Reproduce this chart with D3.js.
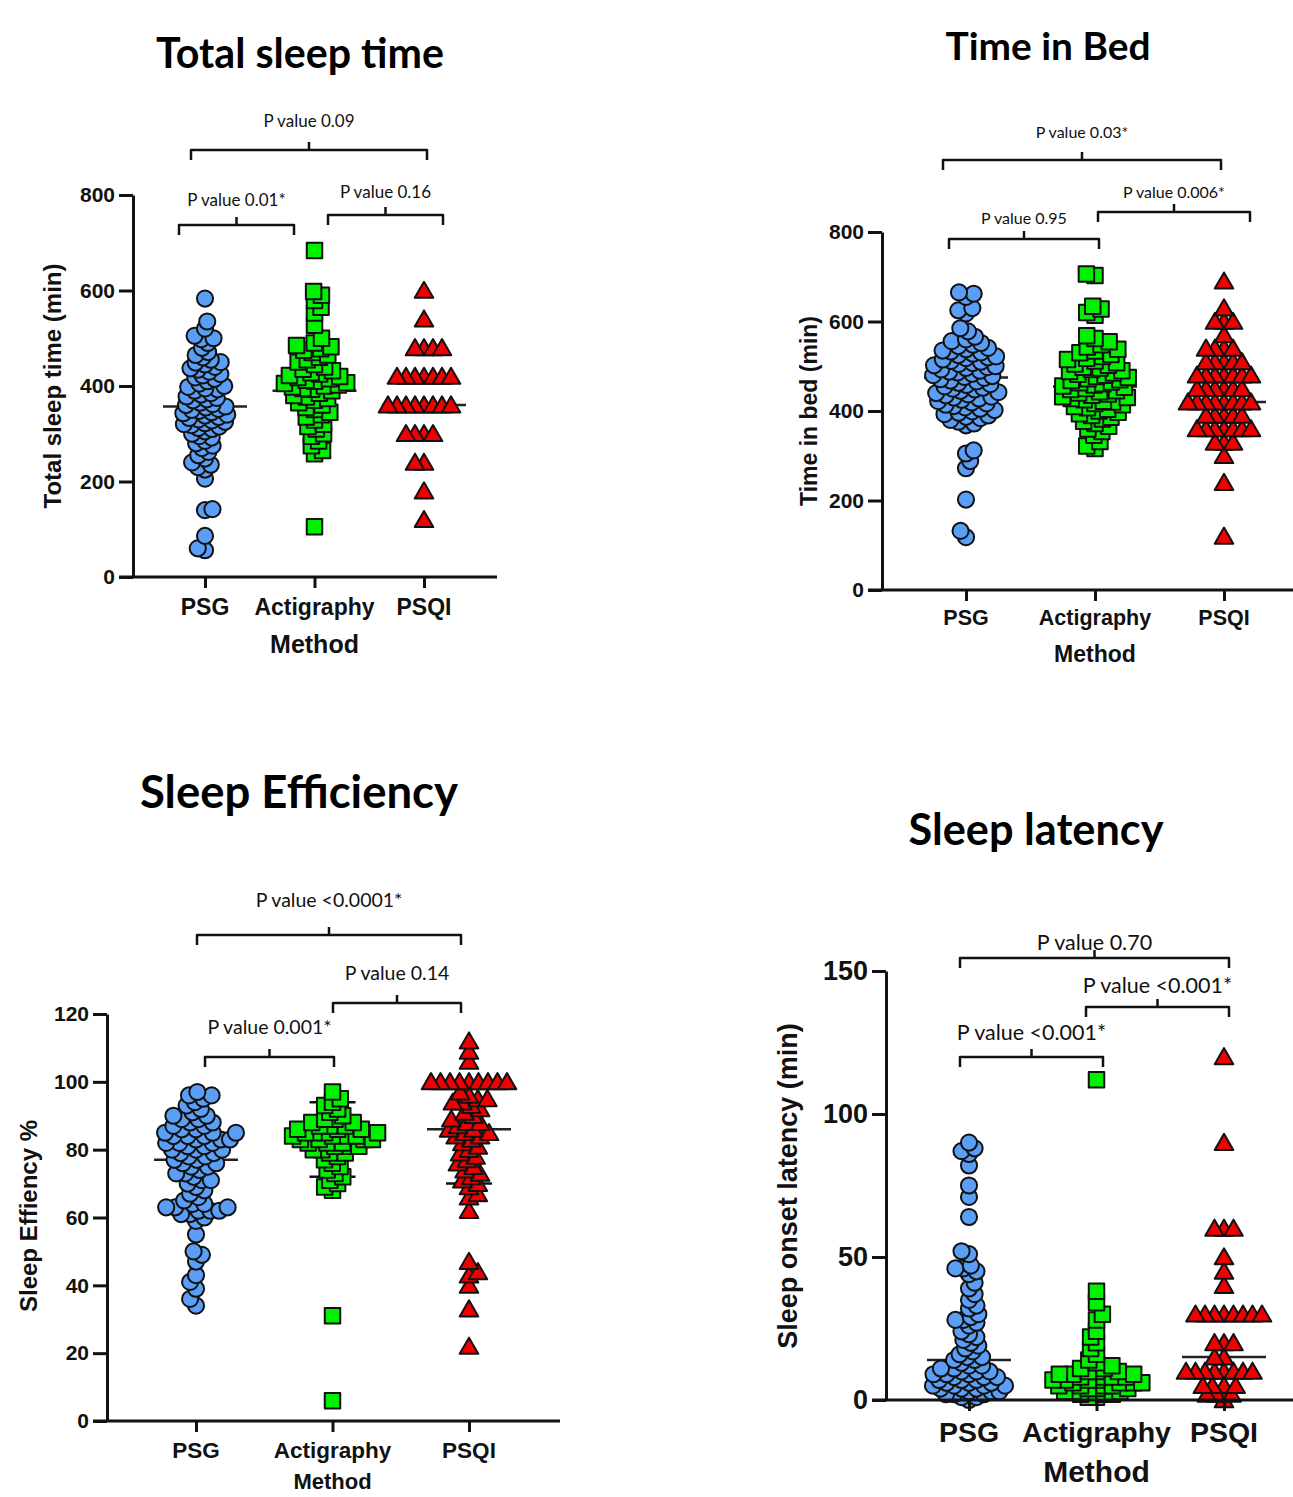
<!DOCTYPE html>
<html>
<head>
<meta charset="utf-8">
<script src="https://cdn.jsdelivr.net/npm/d3@7"></script>
<style>
  body { margin: 0; background: #fff; }
  svg { display: block; }
</style>
</head>
<body>
<svg id="fig" width="1293" height="1497"></svg>
<script>
// Groups shown in every panel
var categories = ["PSG", "Actigraphy", "PSQI"];

// Total sleep time (min)
var tstPSG = [583, 535, 520, 505, 500, 498, 490, 480, 471, 465, 460, 455, 450, 449, 445, 440, 437, 434, 430, 425,
  422, 418, 415, 410, 405, 400, 398, 395, 393, 390, 385, 382, 378, 375, 372, 370, 365, 362, 360, 357,
  355, 352, 350, 348, 345, 343, 340, 338, 335, 333, 330, 328, 325, 322, 320, 318, 315, 312, 310, 305,
  300, 295, 292, 285, 280, 275, 270, 262, 255, 248, 240, 235, 230, 225, 206, 142, 140, 86, 60, 56];
var tstAct = [684, 598, 590, 579, 565, 553, 527, 500, 490, 485, 482, 478, 475, 470, 465, 460, 455, 450, 445, 440,
  435, 432, 428, 425, 422, 420, 418, 415, 412, 410, 407, 405, 402, 400, 398, 395, 393, 390, 385, 380,
  377, 374, 370, 365, 360, 355, 351, 345, 340, 335, 329, 320, 315, 310, 300, 295, 285, 275, 265, 258, 105];
var tstPSQI = [600, 540, 480, 480, 480, 480, 420, 420, 420, 420, 420, 420, 420, 360, 360, 360, 360, 360, 360, 360, 360,
  300, 300, 300, 300, 240, 240, 180, 120];
var tstMedians = [357, 390, 360];
var tstTicks = [0, 200, 400, 600, 800];
var tstPvalues = ["P value 0.01*", "P value 0.16", "P value 0.09"];

// Time in bed (min)
var tibPSG = [665, 662, 655, 630, 625, 618, 585, 578, 566, 560, 556, 552, 548, 545, 541, 538, 535, 533, 531, 528,
  525, 522, 520, 518, 515, 512, 510, 507, 505, 502, 500, 498, 496, 493, 490, 488, 486, 483, 480, 478,
  476, 474, 471, 468, 466, 463, 460, 458, 455, 452, 450, 448, 445, 442, 440, 437, 435, 432, 430, 428,
  425, 422, 419, 417, 414, 411, 408, 405, 402, 399, 396, 393, 390, 387, 384, 380, 376, 372, 368,
  312, 305, 288, 272, 202, 132, 118];
var tibAct = [706, 703, 634, 628, 620, 614, 568, 562, 555, 548, 543, 538, 534, 530, 526, 522, 518, 515, 512, 508,
  505, 502, 498, 496, 493, 490, 488, 485, 482, 480, 477, 475, 472, 470, 468, 465, 463, 461, 458, 456,
  453, 450, 448, 445, 443, 440, 438, 435, 432, 430, 428, 425, 422, 420, 417, 414, 410, 407, 404, 400,
  397, 394, 390, 386, 382, 377, 372, 366, 360, 354, 346, 332, 322, 316];
var tibPSQI = [690, 630, 600, 600, 600, 570, 540, 540, 540, 540, 510, 510, 510, 510, 510,
  480, 480, 480, 480, 480, 480, 480, 450, 450, 450, 450, 450, 450,
  420, 420, 420, 420, 420, 420, 420, 420, 390, 390, 390, 390, 390,
  360, 360, 360, 360, 360, 360, 360, 330, 330, 330, 300, 240, 120];
var tibMedians = [475, 455, 420];
var tibTicks = [0, 200, 400, 600, 800];
var tibPvalues = ["P value 0.95", "P value 0.006*", "P value 0.03*"];

// Sleep efficiency (%)
var sePSG = [34, 36, 39, 41, 43, 47, 49, 50, 55, 59, 60, 61, 61, 62, 62, 62, 63, 63, 63, 64,
  64, 65, 66, 67, 68, 69, 70, 71, 71, 72, 73, 73, 74, 75, 75, 76, 76, 77, 77, 78,
  78, 79, 79, 80, 80, 80, 81, 81, 82, 82, 82, 83, 83, 83, 84, 84, 84, 85, 85, 85,
  86, 86, 87, 87, 88, 88, 89, 89, 90, 90, 91, 92, 93, 94, 95, 96, 96, 97];
var seAct = [6, 31, 68, 69, 70, 71, 72, 73, 74, 75, 76, 77, 78, 79, 79, 80, 80, 81, 81, 81,
  82, 82, 82, 83, 83, 83, 83, 84, 84, 84, 84, 85, 85, 85, 85, 86, 86, 86, 87, 87,
  87, 88, 88, 89, 89, 90, 91, 92, 93, 94, 95, 97];
var sePSQI = [22, 33, 40, 43, 44, 47, 62, 66, 67, 69, 70, 71, 72, 73, 74, 75, 76, 77, 78, 79,
  80, 81, 82, 83, 84, 84, 85, 85, 86, 86, 87, 88, 88, 89, 90, 91, 92, 93, 94, 94,
  95, 95, 96, 97, 100, 100, 100, 100, 100, 100, 100, 100, 100, 106, 109, 112];
var seMedians = [77, 83, 86];
var seLowerQ = [63, 72, 70];
var seUpperQ = [88, 94, 100];
var seTicks = [0, 20, 40, 60, 80, 100, 120];
var sePvalues = ["P value 0.001*", "P value 0.14", "P value <0.0001*"];

// Sleep onset latency (min)
var slPSG = [0, 1, 1, 2, 2, 2, 3, 3, 3, 4, 4, 4, 5, 5, 5, 5, 6, 6, 6, 7,
  7, 7, 8, 8, 8, 9, 9, 9, 10, 10, 10, 11, 11, 12, 12, 13, 14, 14, 15, 15,
  16, 17, 18, 19, 20, 21, 22, 23, 24, 26, 27, 28, 28, 29, 30, 32, 33, 35, 37, 39,
  41, 44, 45, 46, 46, 47, 51, 52, 64, 71, 75, 82, 86, 87, 88, 90];
var slAct = [1, 1, 2, 2, 2, 3, 3, 3, 4, 4, 4, 5, 5, 5, 5, 6, 6, 6, 6, 7,
  7, 7, 7, 8, 8, 8, 8, 9, 9, 9, 10, 10, 10, 11, 11, 12, 13, 14, 16, 18,
  20, 22, 24, 28, 30, 34, 38, 112];
var slPSQI = [120, 90, 60, 60, 60, 50, 45, 40, 30, 30, 30, 30, 30, 30, 30, 30,
  20, 20, 20, 15, 15, 10, 10, 10, 10, 10, 10, 10, 10, 5, 5, 5, 5, 2, 2, 2, 0];
var slMedians = [14, 7, 15];
var slTicks = [0, 50, 100, 150];
var slPvalues = ["P value <0.001*", "P value <0.001*", "P value 0.70"];

// Marker look per group
var colors = ["#5a9ef5", "#00f000", "#f00000"];
var shapes = [d3.symbolCircle, d3.symbolSquare, d3.symbolTriangle];
var shapeSizes = [205, 240, 150];

var svg = d3.select("#fig");

// Panel layout (pixels); dist = spacing between marker centres per group
var panels = [
  { title: "Total sleep time", titleX: 300, titleY: 68, titleW: 288,
    yLabel: "Total sleep time (min)", yLabelX: 53, yLabelY: 386, yLabelSize: 24,
    axisX: 133, axisEnd: 497, yRange: [577, 195], xRange: [205, 424], domain: [0, 800],
    ticks: tstTicks, tickFont: 21, catY: 615, catFont: 23, methodY: 653, methodFont: 25,
    groups: [tstPSG, tstAct, tstPSQI], medians: tstMedians, dist: [7.5, 8.7, 9],
    pFont: 17, pvalues: tstPvalues,
    brackets: [[179, 294, 225, 206], [328, 443, 215, 198], [191, 427, 150, 127]] },
  { title: "Time in Bed", titleX: 1048, titleY: 60, titleW: 205,
    yLabel: "Time in bed (min)", yLabelX: 809, yLabelY: 411, yLabelSize: 23,
    axisX: 882, axisEnd: 1293, yRange: [590, 232], xRange: [966, 1224], domain: [0, 800],
    ticks: tibTicks, tickFont: 21, catY: 625, catFont: 21.5, methodY: 662, methodFont: 23,
    groups: [tibPSG, tibAct, tibPSQI], medians: tibMedians, dist: [8.3, 8.7, 9],
    pFont: 16, pvalues: tibPvalues,
    brackets: [[949, 1099, 239, 224], [1098, 1250, 212, 198], [943, 1221, 160, 138]] },
  { title: "Sleep Efficiency", titleX: 299, titleY: 808, titleW: 318,
    yLabel: "Sleep Effiency %", yLabelX: 29, yLabelY: 1216, yLabelSize: 24,
    axisX: 107, axisEnd: 560, yRange: [1421, 1014], xRange: [196, 469], domain: [0, 120],
    ticks: seTicks, tickFont: 21, catY: 1458, catFont: 22.5, methodY: 1489, methodFont: 22,
    groups: [sePSG, seAct, sePSQI], medians: seMedians, lowerQ: seLowerQ, upperQ: seUpperQ, dist: [9, 8.5, 9.5],
    pFont: 19.5, pvalues: sePvalues,
    brackets: [[205, 334, 1057, 1034], [333, 461, 1003, 980], [197, 461, 935, 907]] },
  { title: "Sleep latency", titleX: 1036, titleY: 845, titleW: 255,
    yLabel: "Sleep onset latency (min)", yLabelX: 788, yLabelY: 1186, yLabelSize: 27,
    axisX: 886, axisEnd: 1293, yRange: [1400, 971], xRange: [969, 1224], domain: [0, 150],
    ticks: slTicks, tickFont: 27, catY: 1442, catFont: 28.5, methodY: 1482, methodFont: 30,
    groups: [slPSG, slAct, slPSQI], medians: slMedians, dist: [8, 8.2, 9.5],
    pFont: 21.5, pvalues: slPvalues,
    brackets: [[960, 1103, 1057, 1040], [1086, 1229, 1007, 993], [960, 1229, 958, 950]] }
];

// Simple beeswarm: place each point as close to the centre line as possible
function swarm(values, y, dist) {
  var pts = values.map(function(v) { return {v: v, y: y(v), dx: 0}; })
    .sort(function(a, b) { return b.y - a.y; });
  var placed = [];
  pts.forEach(function(p, i) {
    var cands = [0];
    placed.forEach(function(q) {
      var dy = Math.abs(q.y - p.y);
      if (dy < dist) {
        var w = Math.sqrt(dist * dist - dy * dy);
        cands.push(q.dx + w, q.dx - w);
      }
    });
    var side = i % 2 ? 1 : -1;
    cands.sort(function(a, b) {
      return Math.abs(a) - Math.abs(b) || (a - b) * side;
    });
    for (var k = 0; k < cands.length; k++) {
      var c = cands[k];
      var ok = placed.every(function(q) {
        var ddx = c - q.dx, ddy = p.y - q.y;
        return ddx * ddx + ddy * ddy >= dist * dist - 0.01;
      });
      if (ok) { p.dx = c; break; }
    }
    placed.push(p);
  });
  return pts;
}

function fitWidth(sel, w) {
  var cur = sel.node().getComputedTextLength();
  sel.attr("font-size", parseFloat(sel.attr("font-size")) * w / cur);
}

function drawPanel(p) {
  var g = svg.append("g");
  var x = d3.scalePoint().domain(categories).range(p.xRange);
  var y = d3.scaleLinear().domain(p.domain).range(p.yRange);

  // title
  var t = g.append("text")
    .attr("x", p.titleX).attr("y", p.titleY)
    .attr("text-anchor", "middle")
    .attr("font-family", "Lato, 'Open Sans', sans-serif")
    .attr("font-weight", 700).attr("font-size", 36)
    .text(p.title);
  fitWidth(t, p.titleW);

  // median and interquartile lines sit behind the points
  categories.forEach(function(c, i) {
    var cx = x(c);
    if (p.lowerQ) {
      g.append("line").attr("x1", cx).attr("x2", cx)
        .attr("y1", y(p.lowerQ[i])).attr("y2", y(p.upperQ[i]))
        .attr("stroke", "#111").attr("stroke-width", 2.5);
      [p.lowerQ[i], p.upperQ[i]].forEach(function(v) {
        g.append("line").attr("x1", cx - 23).attr("x2", cx + 23)
          .attr("y1", y(v)).attr("y2", y(v))
          .attr("stroke", "#111").attr("stroke-width", 2.5);
      });
    }
    g.append("line").attr("x1", cx - 42).attr("x2", cx + 42)
      .attr("y1", y(p.medians[i])).attr("y2", y(p.medians[i]))
      .attr("stroke", "#222").attr("stroke-width", 2.5);
  });

  // points
  p.groups.forEach(function(vals, i) {
    var pts = swarm(vals, y, p.dist[i]);
    g.append("g").selectAll("path")
      .data(pts)
      .enter().append("path")
      .attr("d", d3.symbol(shapes[i], shapeSizes[i]))
      .attr("transform", function(d) {
        return "translate(" + (x(categories[i]) + d.dx) + "," + (d.y + (i == 2 ? 2 : 0)) + ")";
      })
      .attr("fill", colors[i])
      .attr("stroke", "#111")
      .attr("stroke-width", 2)
      .attr("stroke-linejoin", "round");
  });

  // y axis
  var ya = g.append("g")
    .attr("transform", "translate(" + p.axisX + ",0)")
    .call(d3.axisLeft(y).tickValues(p.ticks).tickSize(14).tickSizeOuter(0).tickPadding(4));
  ya.selectAll("text")
    .attr("font-family", "'Liberation Sans', Arial, sans-serif")
    .attr("font-weight", 700).attr("font-size", p.tickFont).attr("fill", "#111");

  // x axis
  var xa = g.append("g")
    .attr("transform", "translate(0," + p.yRange[0] + ")")
    .call(d3.axisBottom(x).tickSize(11).tickSizeOuter(0));
  xa.select(".domain").attr("d", "M" + (p.axisX - 14) + ",0H" + p.axisEnd);
  xa.selectAll("text").remove();
  g.selectAll(".domain, .tick line").attr("stroke", "#111").attr("stroke-width", 3);

  g.selectAll(null).data(categories).enter().append("text")
    .attr("x", function(d) { return x(d); }).attr("y", p.catY)
    .attr("text-anchor", "middle")
    .attr("font-family", "'Liberation Sans', Arial, sans-serif")
    .attr("font-weight", 700).attr("font-size", p.catFont).attr("fill", "#111")
    .text(function(d) { return d; });

  g.append("text")
    .attr("x", x("Actigraphy")).attr("y", p.methodY)
    .attr("text-anchor", "middle")
    .attr("font-family", "'Liberation Sans', Arial, sans-serif")
    .attr("font-weight", 700).attr("font-size", p.methodFont).attr("fill", "#111")
    .text("Method");

  g.append("text")
    .attr("transform", "translate(" + p.yLabelX + "," + p.yLabelY + ") rotate(-90)")
    .attr("text-anchor", "middle").attr("dy", "0.35em")
    .attr("font-family", "'Liberation Sans', Arial, sans-serif")
    .attr("font-weight", 700).attr("font-size", p.yLabelSize).attr("fill", "#111")
    .text(p.yLabel);

  // significance brackets
  p.brackets.forEach(function(b, i) {
    var path = d3.path();
    path.moveTo(b[0], b[2] + 10);
    path.lineTo(b[0], b[2]);
    path.lineTo(b[1], b[2]);
    path.lineTo(b[1], b[2] + 10);
    var mid = (b[0] + b[1]) / 2;
    path.moveTo(mid, b[2]);
    path.lineTo(mid, b[2] - 8);
    g.append("path").attr("d", path.toString())
      .attr("fill", "none").attr("stroke", "#111").attr("stroke-width", 2.5)
      .attr("stroke-linejoin", "round");
    g.append("text")
      .attr("x", mid).attr("y", b[3])
      .attr("text-anchor", "middle")
      .attr("font-family", "Lato, 'Open Sans', sans-serif")
      .attr("font-size", p.pFont).attr("fill", "#111")
      .text(p.pvalues[i]);
  });
}

panels.forEach(drawPanel);
</script>
</body>
</html>
